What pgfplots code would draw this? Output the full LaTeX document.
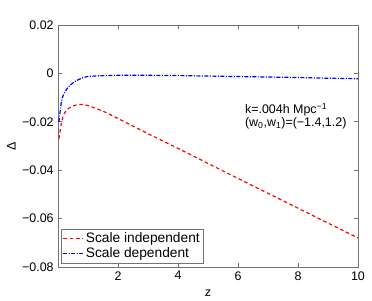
\documentclass[border=0pt]{standalone}
\usepackage{pgfplots}
\pgfplotsset{compat=1.18}
\usepackage{fontspec}
\setmainfont{Liberation Sans}
\begin{document}
\fontsize{12.5}{14}\selectfont
\begin{tikzpicture}
\begin{axis}[
  scale only axis,
  width=300bp, height=242bp,
  xmin=0, xmax=10, ymin=-0.08, ymax=0.02,
  scaled y ticks=false,
  xtick={2,4,6,8,10},
  ytick={-0.08,-0.06,-0.04,-0.02,0,0.02},
  yticklabels={−0.08,−0.06,−0.04,−0.02,0,0.02},
  xticklabel style={/pgf/number format/assume math mode=true},
  tick label style={font=\fontsize{12.5}{14}\selectfont},
  tick align=inside,
  major tick length=4bp,
  axis line style={black!55, line width=0.9bp},
  every tick/.style={black!55, line width=0.7bp},
  xlabel={z}, ylabel={Δ},
  label style={font=\fontsize{12.5}{14}\selectfont},
  xlabel style={yshift=-1bp},
  ylabel style={yshift=-2bp},
  clip=false,
  legend style={at={(rel axis cs:0.01,0.015)}, anchor=south west, draw=black!55, line width=0.7bp, inner sep=1.5bp, row sep=-1bp, font=\fontsize{13.8}{15}\selectfont},
  legend cell align=left,
  legend image code/.code={\draw[#1] (0cm,0cm) -- (0.7cm,0cm);},
]
\addplot[red, line width=1.2bp, dash pattern=on 3.5bp off 2.8bp, smooth, tension=0.4] coordinates {
(0.03,-0.027) (0.1,-0.0215) (0.18,-0.0174) (0.3,-0.0150) (0.45,-0.0137) (0.6,-0.0131) (0.8,-0.0128) (1.0,-0.0133) (1.2,-0.0142) (1.57,-0.0160) (2.12,-0.0194) (2.79,-0.0236) (4,-0.0310) (6,-0.0434) (8,-0.0557) (10,-0.068)
};
\addlegendentry{Scale independent}
\addplot[blue, line width=1.2bp, dash pattern=on 4bp off 1.5bp on 1bp off 1.5bp, smooth, tension=0.4] coordinates {
(0.03,-0.0201) (0.12,-0.0112) (0.2,-0.0085) (0.34,-0.0057) (0.57,-0.0033) (0.9,-0.0015) (1.34,-0.0010) (2,-0.0008) (3,-0.0008) (4,-0.0009) (5,-0.0011) (6,-0.0013) (7,-0.0015) (8,-0.0017) (9,-0.0020) (10,-0.0022)
};
\addlegendentry{Scale dependent}
\node[anchor=north west, align=left, inner sep=0pt, font=\fontsize{12.5}{13}\selectfont] at (axis cs:6.23,-0.0124) {k=.004h Mpc\textsuperscript{−1}\\(w\textsubscript{0},w\textsubscript{1})=(−1.4,1.2)};
\path (rel axis cs:-0.1933,-0.1364) rectangle (rel axis cs:1.0467,1.1033);
\end{axis}
\end{tikzpicture}
\end{document}
